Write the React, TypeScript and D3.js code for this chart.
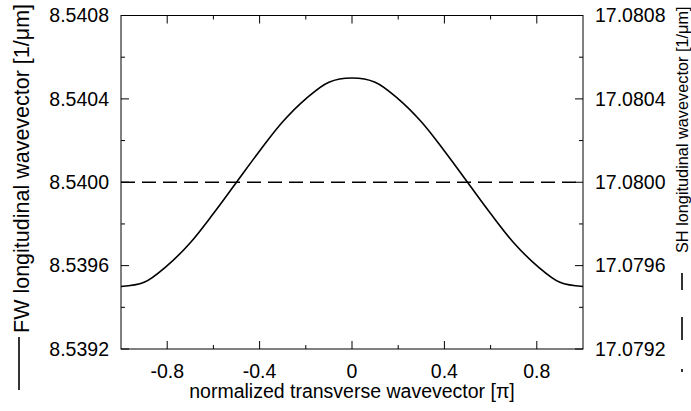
import React from 'react'
import * as d3 from 'd3'

// transverse wavevector samples [pi]
const kt = [-1, -0.9, -0.8, -0.7, -0.6, -0.5, -0.4, -0.3, -0.2, -0.1, 0, 0.1, 0.2, 0.3, 0.4, 0.5, 0.6, 0.7, 0.8, 0.9, 1]
// FW longitudinal wavevector [1/um]
const fwK = [8.5395, 8.53952, 8.5396, 8.53971, 8.53985, 8.54, 8.54015, 8.54029, 8.5404, 8.54048, 8.5405, 8.54048, 8.5404, 8.54029, 8.54015, 8.54, 8.53985, 8.53971, 8.5396, 8.53952, 8.5395]
// SH longitudinal wavevector [1/um]
const shKt = [-1, 1]
const shK = [17.08, 17.08]

const xMajor = [-0.8, -0.4, 0, 0.4, 0.8]
const xMinor = [-0.6, -0.2, 0.2, 0.6]
const fwTicks = [8.5392, 8.5396, 8.54, 8.5404, 8.5408]
const fwMinor = [8.5394, 8.5398, 8.5402, 8.5406]
const shTicks = [17.0792, 17.0796, 17.08, 17.0804, 17.0808]
const shMinor = [17.0794, 17.0798, 17.0802, 17.0806]

const W = 691
const H = 411
const m = { left: 121, right: 583, top: 15.5, bottom: 349 }
const font = '"Liberation Sans", Arial, sans-serif'
const fs = 19.5

export default function App() {
  const x = d3.scaleLinear().domain([-1, 1]).range([m.left, m.right])
  const yL = d3.scaleLinear().domain([8.5392, 8.5408]).range([m.bottom, m.top])
  const yR = d3.scaleLinear().domain([17.0792, 17.0808]).range([m.bottom, m.top])

  const fwLine = d3
    .line<number>()
    .x((_, i) => x(kt[i]))
    .y((d) => yL(d))
    .curve(d3.curveCatmullRom.alpha(0.5))
  const shLine = d3
    .line<number>()
    .x((_, i) => x(shKt[i]))
    .y((d) => yR(d))

  const tk = { stroke: '#000', strokeWidth: 1 }

  return (
    <svg width={W} height={H} style={{ position: 'absolute', left: 0, top: 0, background: '#fff' }} fontFamily={font}>
      {/* ticks, bottom and top */}
      {xMajor.map((v) => (
        <g key={'xM' + v}>
          <line x1={x(v)} x2={x(v)} y1={m.bottom} y2={m.bottom - 8} {...tk} />
          <line x1={x(v)} x2={x(v)} y1={m.top} y2={m.top + 8} {...tk} />
          <text x={x(v)} y={378} textAnchor="middle" fontSize={fs}>
            {v === 0 ? '0' : v.toFixed(1)}
          </text>
        </g>
      ))}
      {xMinor.map((v) => (
        <g key={'xm' + v}>
          <line x1={x(v)} x2={x(v)} y1={m.bottom} y2={m.bottom - 4} {...tk} />
          <line x1={x(v)} x2={x(v)} y1={m.top} y2={m.top + 4} {...tk} />
        </g>
      ))}
      {fwTicks.map((v) => (
        <g key={'l' + v}>
          <line x1={m.left} x2={m.left + 8} y1={yL(v)} y2={yL(v)} {...tk} />
          <text x={m.left - 12} y={yL(v)} dy="0.35em" textAnchor="end" fontSize={fs}>
            {v.toFixed(4)}
          </text>
        </g>
      ))}
      {fwMinor.map((v) => (
        <line key={'lm' + v} x1={m.left} x2={m.left + 4} y1={yL(v)} y2={yL(v)} {...tk} />
      ))}
      {shTicks.map((v) => (
        <g key={'r' + v}>
          <line x1={m.right} x2={m.right - 8} y1={yR(v)} y2={yR(v)} {...tk} />
          <text x={m.right + 12} y={yR(v)} dy="0.35em" textAnchor="start" fontSize={fs}>
            {v.toFixed(4)}
          </text>
        </g>
      ))}
      {shMinor.map((v) => (
        <line key={'rm' + v} x1={m.right} x2={m.right - 4} y1={yR(v)} y2={yR(v)} {...tk} />
      ))}

      {/* frame */}
      <rect x={m.left} y={m.top} width={m.right - m.left} height={m.bottom - m.top} fill="none" stroke="#000" strokeWidth={1} />

      {/* series */}
      <path d={fwLine(fwK) || ''} fill="none" stroke="#000" strokeWidth={1.6} />
      <path d={shLine(shK) || ''} fill="none" stroke="#000" strokeWidth={1.6} strokeDasharray="14,7" />

      {/* axis titles */}
      <text x={352} y={398} textAnchor="middle" fontSize={fs}>
        normalized transverse wavevector [π]
      </text>
      <g>
        <line x1={19} x2={19} y1={337} y2={390} stroke="#000" strokeWidth={1.6} />
        <text transform="translate(29,333) rotate(-90)" textAnchor="start" fontSize={21.5}>
          FW longitudinal wavevector [1/μm]
        </text>
      </g>
      <g>
        <line x1={682} x2={682} y1={273} y2={372} stroke="#000" strokeWidth={1.6} strokeDasharray="17,27,23,29,3" />
        <text transform="translate(687.5,253) rotate(-90)" textAnchor="start" fontSize={16.3}>
          SH longitudinal wavevector [1/μm]
        </text>
      </g>
    </svg>
  )
}
